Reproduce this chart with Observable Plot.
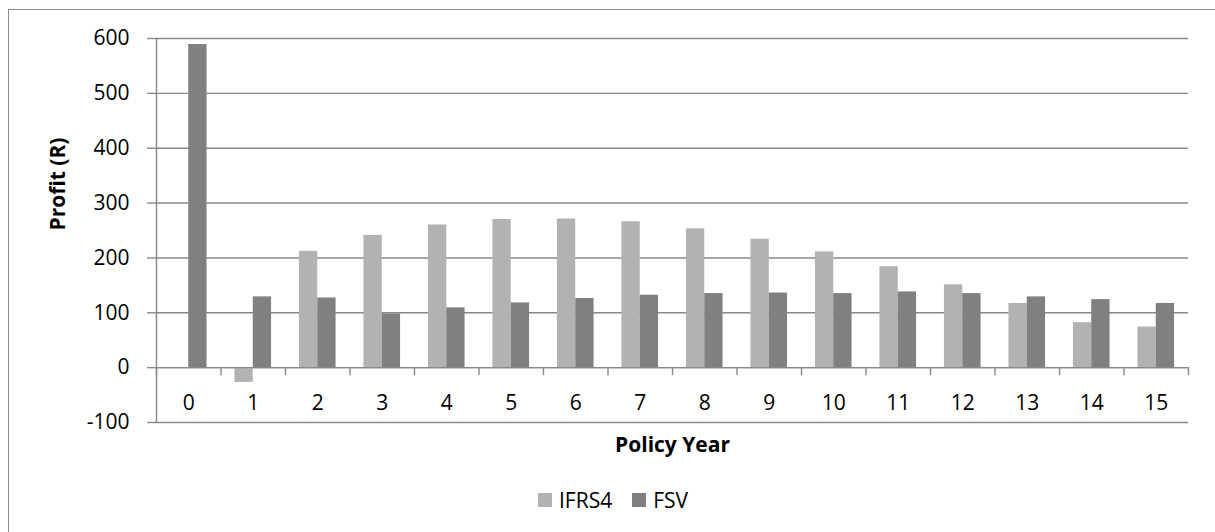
<!DOCTYPE html>
<html>
<head>
<meta charset="utf-8">
<script src="https://cdn.jsdelivr.net/npm/d3@7"></script>
<script src="https://cdn.jsdelivr.net/npm/@observablehq/plot@0.6"></script>
<style>
  html, body { margin: 0; padding: 0; background: #fff; overflow: hidden; }
  #wrap { position: relative; width: 1215px; height: 532px; font-family: "Open Sans", sans-serif; }
  #frame { position: absolute; left: 8px; top: 9px; width: 1240px; height: 560px; border: 1px solid #8c8c8c; box-sizing: border-box; pointer-events: none; }
  #chart { position: absolute; left: 0; top: 0; }
  #legend { position: absolute; left: 538px; top: 486px; display: flex; align-items: center; font-size: 21px; color: #000; }
  .item { display: flex; align-items: center; margin-right: 20px; }
  .sw { width: 14px; height: 14px; margin-right: 7px; }
</style>
</head>
<body>
<div id="wrap">
  <div id="frame"></div>
  <div id="chart"></div>
  <div id="legend"></div>
</div>
<script>
const years = [0, 1, 2, 3, 4, 5, 6, 7, 8, 9, 10, 11, 12, 13, 14, 15];
const ifrs4 = [0, -27, 212, 241, 260, 270, 271, 266, 253, 234, 211, 184, 151, 117, 82, 74];
const fsv = [589, 129, 127, 98, 109, 118, 126, 132, 135, 136, 135, 138, 135, 129, 124, 117];
const seriesNames = ["IFRS4", "FSV"];
const seriesColors = ["#b2b2b2", "#808080"];
const yTicks = [-100, 0, 100, 200, 300, 400, 500, 600];
const yTickLabels = ["-100", "0", "100", "200", "300", "400", "500", "600"];
const xTitle = "Policy Year";
const yTitle = "Profit (R)";

const barW = 0.284; // fraction of a category per bar
const rows = [];
years.forEach((yr, i) => {
  [ifrs4[i], fsv[i]].forEach((v, k) => {
    rows.push({year: yr, series: seriesNames[k], k, value: v});
  });
});
const bounds = d3.range(years.length + 1).map(i => years[0] - 0.5 + i);
const gridColor = "#888888";

const plot = Plot.plot({
  width: 1215,
  height: 470,
  marginLeft: 156,
  marginRight: 27,
  marginTop: 38,
  marginBottom: 48,
  style: {fontFamily: "Open Sans", fontSize: "21px", color: "#000", background: "transparent"},
  x: {domain: [years[0] - 0.5, years[years.length - 1] + 0.5], axis: null},
  y: {domain: [yTicks[0], yTicks[yTicks.length - 1]], axis: null},
  color: {domain: seriesNames, range: seriesColors},
  marks: [
    Plot.ruleY(yTicks, {stroke: gridColor, strokeWidth: 1.4}),
    Plot.rectY(rows, {
      x1: d => d.year - barW + d.k * barW,
      x2: d => d.year + d.k * barW,
      y: "value",
      fill: "series"
    }),
    Plot.ruleY([0], {stroke: gridColor, strokeWidth: 1.4}),
    Plot.ruleX([bounds[0]], {y1: yTicks[0], y2: yTicks[yTicks.length - 1], stroke: gridColor, strokeWidth: 1.4}),
    Plot.ruleX(bounds, {x: d => d, y1: () => 0, y2: () => 0, insetBottom: -8, stroke: gridColor, strokeWidth: 1.4}),
    Plot.axisY({ticks: yTicks, tickFormat: d => yTickLabels[yTicks.indexOf(d)], tickSize: 9, tickPadding: 18, stroke: gridColor, strokeWidth: 1.4, label: null, fill: "#000"}),
    Plot.text(years, {x: d => d, y: () => 0, dy: 36, text: d => String(d), fill: "#000"}),
    Plot.text([xTitle], {frameAnchor: "bottom", dy: 29, text: d => d, fontWeight: "bold", fontSize: 21, fill: "#000"}),
    Plot.text([yTitle], {frameAnchor: "left", dx: -98, rotate: -90, text: d => d, fontWeight: "bold", fontSize: 21, fill: "#000"})
  ]
});
document.getElementById("chart").appendChild(plot);

const legend = document.getElementById("legend");
seriesNames.forEach((name, i) => {
  const item = document.createElement("div");
  item.className = "item";
  const sw = document.createElement("div");
  sw.className = "sw";
  sw.style.background = seriesColors[i];
  const t = document.createElement("span");
  t.textContent = name;
  item.appendChild(sw);
  item.appendChild(t);
  legend.appendChild(item);
});
</script>
</body>
</html>
